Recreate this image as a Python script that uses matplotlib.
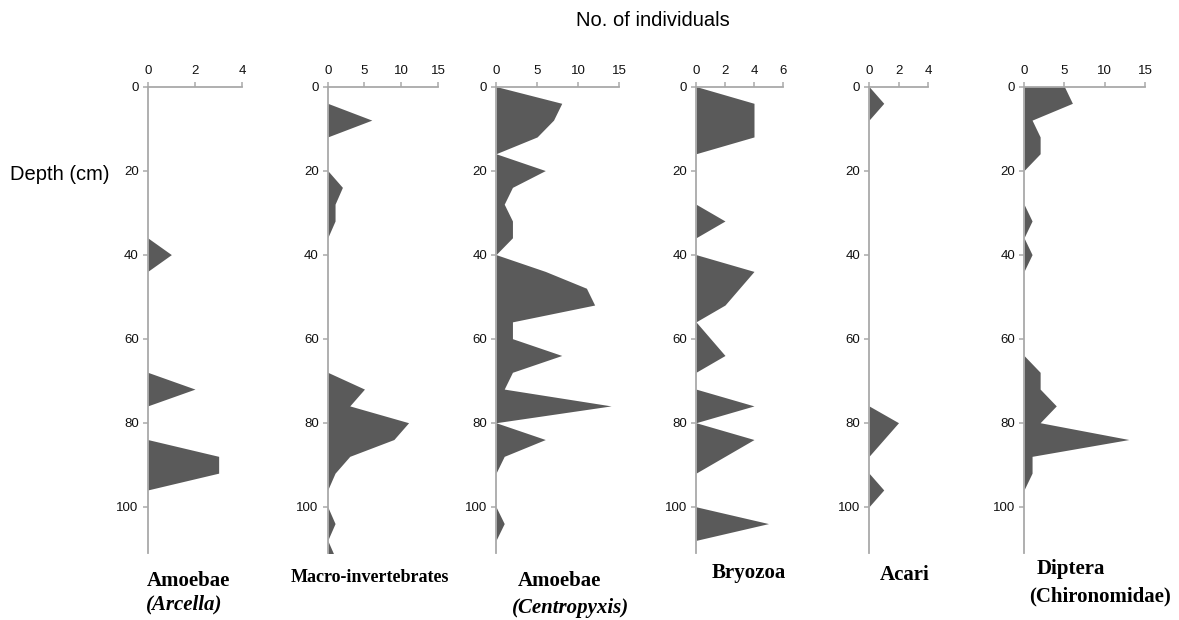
import numpy as np
import matplotlib
matplotlib.use('Agg')
import matplotlib.pyplot as plt

plt.rcParams['font.family'] = ['Liberation Sans', 'DejaVu Sans']

# depth of each sample (cm), one every 4 cm
depth = [0, 4, 8, 12, 16, 20, 24, 28, 32, 36, 40, 44, 48, 52, 56,
         60, 64, 68, 72, 76, 80, 84, 88, 92, 96, 100, 104, 108, 112]

# counts per sample
arcella     = [0, 0, 0, 0, 0, 0, 0, 0, 0, 0, 1, 0, 0, 0, 0,
               0, 0, 0, 2, 0, 0, 0, 3, 3, 0, 0, 0, 0, 0]
macro       = [0, 0, 6, 0, 0, 0, 2, 1, 1, 0, 0, 0, 0, 0, 0,
               0, 0, 0, 5, 3, 11, 9, 3, 1, 0, 0, 1, 0, 1]
centropyxis = [0, 8, 7, 5, 0, 6, 2, 1, 2, 2, 0, 6, 11, 12, 2,
               2, 8, 2, 1, 14, 0, 6, 1, 0, 0, 0, 1, 0, 0]
bryozoa     = [0, 4, 4, 4, 0, 0, 0, 0, 2, 0, 0, 4, 3, 2, 0,
               1, 2, 0, 0, 4, 0, 4, 2, 0, 0, 0, 5, 0, 0]
acari       = [0, 1, 0, 0, 0, 0, 0, 0, 0, 0, 0, 0, 0, 0, 0,
               0, 0, 0, 0, 0, 2, 1, 0, 0, 1, 0, 0, 0, 0]
diptera     = [5, 6, 1, 2, 2, 0, 0, 0, 1, 0, 1, 0, 0, 0, 0,
               0, 0, 2, 2, 4, 2, 13, 1, 1, 0, 0, 0, 0, 0]

series = [arcella, macro, centropyxis, bryozoa, acari, diptera]
xmax = [4, 15, 15, 6, 4, 15]
xticks = [[0, 2, 4], [0, 5, 10, 15], [0, 5, 10, 15], [0, 2, 4, 6], [0, 2, 4], [0, 5, 10, 15]]
yticks = [0, 20, 40, 60, 80, 100]

W, H = 1179, 620
fig = plt.figure(figsize=(W / 100, H / 100), dpi=100)

# panel placement in pixels: left edge and width of the x range
lefts = [147.7, 327.7, 496, 696, 869, 1024]
widths = [94.6, 110.3, 123.3, 87, 59, 121]
top_px, bot_px = 86.5, 553

axis_grey = '#a9a9a9'
fill_grey = '#5a5a5a'

for vals, xm, xt, l, w in zip(series, xmax, xticks, lefts, widths):
    ax = fig.add_axes([l / W, 1 - bot_px / H, w / W, (bot_px - top_px) / H])
    ax.fill_betweenx(depth, 0, vals, color=fill_grey, lw=0)
    ax.set_xlim(0, xm)
    ax.set_ylim(111, 0)
    ax.set_xticks(xt)
    ax.set_yticks(yticks)
    ax.xaxis.tick_top()
    for s in ['right', 'bottom']:
        ax.spines[s].set_visible(False)
    for s in ['top', 'left']:
        ax.spines[s].set_color(axis_grey)
        ax.spines[s].set_linewidth(1.3)
    ax.tick_params(axis='both', colors=axis_grey, labelcolor='#111111',
                   labelsize=9.5, length=3.5, width=1.1, pad=3)
    ax.patch.set_visible(False)

fig.text(653 / W, 1 - 20 / H, 'No. of individuals', ha='center', va='center', fontsize=14.5)
fig.text(60 / W, 1 - 175 / H, 'Depth (cm)', ha='center', va='center', fontsize=14.5)

serif = ['Liberation Serif', 'DejaVu Serif']
titles = [
    (188, 581, 'Amoebae', 'normal', 15),
    (184, 604, '(Arcella)', 'italic', 15),
    (370, 578, 'Macro-invertebrates', 'normal', 13),
    (559, 581, 'Amoebae', 'normal', 15),
    (571, 608, '(Centropyxis)', 'italic', 15),
    (749, 573, 'Bryozoa', 'normal', 15),
    (905, 575, 'Acari', 'normal', 15),
    (1071, 569, 'Diptera', 'normal', 15),
    (1100, 596, '(Chironomidae)', 'normal', 15),
]
for x, y, t, st, fs in titles:
    fig.text(x / W, 1 - y / H, t, ha='center', va='center', family=serif,
             fontweight='bold', fontstyle=st, fontsize=fs)

fig.savefig('out.png', dpi=100)
